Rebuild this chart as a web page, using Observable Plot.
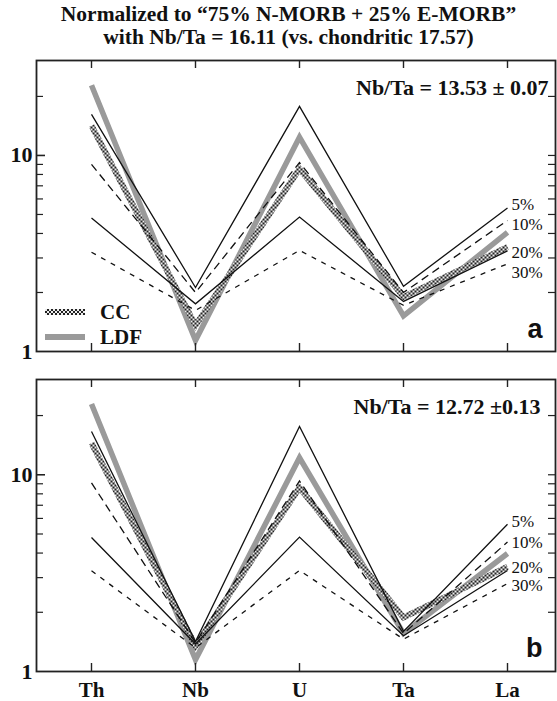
<!DOCTYPE html>
<html>
<head>
<meta charset="utf-8">
<script src="https://cdn.jsdelivr.net/npm/d3@7"></script>
<script src="https://cdn.jsdelivr.net/npm/@observablehq/plot@0.6"></script>
<style>
  html, body { margin: 0; padding: 0; background: #fff; }
  #wrap { position: relative; width: 557px; height: 701px; overflow: hidden; }
  #title { height: 52px; box-sizing: border-box; padding-top: 3px; padding-left: 20px;
    font-family: "Liberation Serif", "Times New Roman", serif; font-weight: bold; font-size: 21.5px;
    line-height: 23px; text-align: center; color: #111; }
  #wrap svg { display: block; overflow: visible; }
  .legend-sw { position: absolute; left: 45px; width: 40px; height: 6px; }
  .legend-tx { position: absolute; left: 100px; font-family: "Liberation Serif", serif;
    font-weight: bold; font-size: 21px; line-height: 22px; color: #111; }
</style>
</head>
<body>
<svg width="0" height="0" style="position:absolute">
  <defs>
    <pattern id="ccpat" patternUnits="userSpaceOnUse" width="4" height="4">
      <rect width="4" height="4" fill="#eeeeee"/>
      <rect width="2" height="2" fill="#222"/>
      <rect x="2" y="2" width="2" height="2" fill="#222"/>
    </pattern>
  </defs>
</svg>
<div id="wrap">
  <div id="title">Normalized to “75% N-MORB + 25% E-MORB”<br>with Nb/Ta = 16.11 (vs. chondritic 17.57)</div>
  <div id="legend">
    <div class="legend-sw" style="top:309px;background-image:repeating-conic-gradient(#222 0% 25%, #eee 0% 50%);background-size:4px 4px;"></div>
    <div class="legend-tx" style="top:301px;">CC</div>
    <div class="legend-sw" style="top:334px;background:#9a9a9a;"></div>
    <div class="legend-tx" style="top:326px;">LDF</div>
  </div>
</div>
<script>
// ---- data ----
const elements = ["Th", "Nb", "U", "Ta", "La"];
const seriesNames = ["5%", "10%", "20%", "30%", "CC", "LDF"];

// panel a (Nb/Ta = 13.53 ± 0.07)
const a5   = [16.2, 2.12, 17.8, 2.15, 5.4];
const a10  = [9.0, 2.0, 9.2, 2.0, 4.66];
const a20  = [4.8, 1.75, 4.85, 1.8, 3.26];
const a30  = [3.21, 1.62, 3.28, 1.72, 2.8];
const aCC  = [14.2, 1.36, 8.55, 1.9, 3.41];
const aLDF = [22.8, 1.14, 12.4, 1.52, 4.05];
const aPctLabelY = [5.6, 4.45, 3.21, 2.54];
const aRatio = "Nb/Ta = 13.53 \u00b1 0.07";

// panel b (Nb/Ta = 12.72 ± 0.13)
const b5   = [16.6, 1.42, 17.6, 1.6, 5.6];
const b10  = [9.1, 1.4, 9.3, 1.56, 4.55];
const b20  = [4.8, 1.38, 4.82, 1.52, 3.26];
const b30  = [3.25, 1.32, 3.26, 1.46, 2.8];
const bCC  = [14.5, 1.35, 8.6, 1.88, 3.41];
const bLDF = [22.9, 1.15, 12.2, 1.56, 3.98];
const bPctLabelY = [5.8, 4.5, 3.38, 2.72];
const bRatio = "Nb/Ta = 12.72 \u00b10.13";

const yMinorTicks = [2, 3, 4, 5, 6, 7, 8, 9, 20];
const yMajorTicks = [10];
const yLabels = [1, 10];
const pctLabels = ["5%", "10%", "20%", "30%"];

// ---- styles ----
const serif = "Liberation Serif, Times New Roman, serif";
const sans = "Liberation Sans, Arial, sans-serif";
const lineStyle = {
  "5%":  {stroke: "#111", strokeWidth: 1.3},
  "10%": {stroke: "#111", strokeWidth: 1.3, strokeDasharray: "8,5"},
  "20%": {stroke: "#111", strokeWidth: 1.3},
  "30%": {stroke: "#111", strokeWidth: 1.3, strokeDasharray: "5,6"},
  "CC":  {stroke: "url(#ccpat)", strokeWidth: 6},
  "LDF": {stroke: "#9a9a9a", strokeWidth: 5.5}
};
const drawOrder = ["LDF", "CC", "30%", "20%", "10%", "5%"];

function panel(seriesVals, pctY, ratio, letter, opts) {
  const W = 557, ml = 36, mr = 2;
  const frameW = W - ml - mr;
  const frameH = opts.height - opts.mt - opts.mb;
  const rows = {};
  seriesNames.forEach((s, k) => {
    rows[s] = seriesVals[k].map((v, i) => ({s, el: elements[i], v}));
  });
  const pctData = pctLabels.map((t, i) => ({t, el: "La", v: pctY[i]}));
  const marks = [];
  for (const s of drawOrder) {
    marks.push(Plot.line(rows[s], {x: "el", y: "v", ...lineStyle[s],
      strokeLinejoin: "miter", strokeLinecap: "butt", strokeMiterlimit: 10}));
  }
  marks.push(
    Plot.text(pctData, {x: "el", y: "v", text: "t", dx: 4, textAnchor: "start",
      fontFamily: serif, fontSize: 17, fill: "#111"}),
    // ticks
    Plot.tickY(yMinorTicks, {y: d => d, insetRight: frameW - 7, stroke: "#222", strokeWidth: 1.2}),
    Plot.tickY(yMajorTicks, {y: d => d, insetRight: frameW - 9, stroke: "#222", strokeWidth: 1.6}),
    Plot.tickY(yMinorTicks.concat(yMajorTicks), {y: d => d, insetLeft: frameW - 7, stroke: "#222", strokeWidth: 1.2}),
    Plot.tickX(elements, {x: d => d, insetBottom: frameH - 8, stroke: "#222", strokeWidth: 1.4}),
    Plot.tickX(elements, {x: d => d, insetTop: frameH - 8, stroke: "#222", strokeWidth: 1.4}),
    Plot.frame({stroke: "#222", strokeWidth: 1.8}),
    Plot.text(yLabels, {y: d => d, text: d => String(d), frameAnchor: "left", dx: -4,
      textAnchor: "end", fontFamily: serif, fontWeight: "bold", fontSize: 22, fill: "#111"}),
    Plot.text([ratio], {text: d => d, frameAnchor: "top-right", dx: opts.ratioDx, dy: 27,
      textAnchor: "end", lineAnchor: "middle", fontFamily: serif, fontWeight: "bold", fontSize: 22, fill: "#111"}),
    Plot.text([letter], {text: d => d, frameAnchor: "bottom-right", dx: -13, dy: opts.letterDy,
      textAnchor: "end", lineAnchor: "bottom", fontFamily: sans, fontWeight: "bold", fontSize: 27, fill: "#111"})
  );
  if (opts.showX) {
    marks.push(Plot.text(elements, {x: d => d, text: d => d, frameAnchor: "bottom", dy: 19,
      lineAnchor: "middle", fontFamily: serif, fontWeight: "bold", fontSize: 21, fill: "#111"}));
  }
  return Plot.plot({
    width: W, height: opts.height,
    marginLeft: ml, marginRight: mr, marginTop: opts.mt, marginBottom: opts.mb,
    x: {type: "point", domain: elements, padding: 0.4774, align: 0.53, axis: null},
    y: {type: "log", domain: [1, 30.5], axis: null},
    style: {background: "transparent", overflow: "visible"},
    marks
  });
}

const wrap = document.getElementById("wrap");
const legend = document.getElementById("legend");
const pa = panel([a5, a10, a20, a30, aCC, aLDF], aPctLabelY, aRatio, "a",
  {height: 302, mt: 8, mb: 3, showX: false, ratioDx: -7, letterDy: -14});
const pb = panel([b5, b10, b20, b30, bCC, bLDF], bPctLabelY, bRatio, "b",
  {height: 347, mt: 25, mb: 30, showX: true, ratioDx: -15, letterDy: -15});
wrap.insertBefore(pa, legend);
wrap.insertBefore(pb, legend);
</script>
</body>
</html>
